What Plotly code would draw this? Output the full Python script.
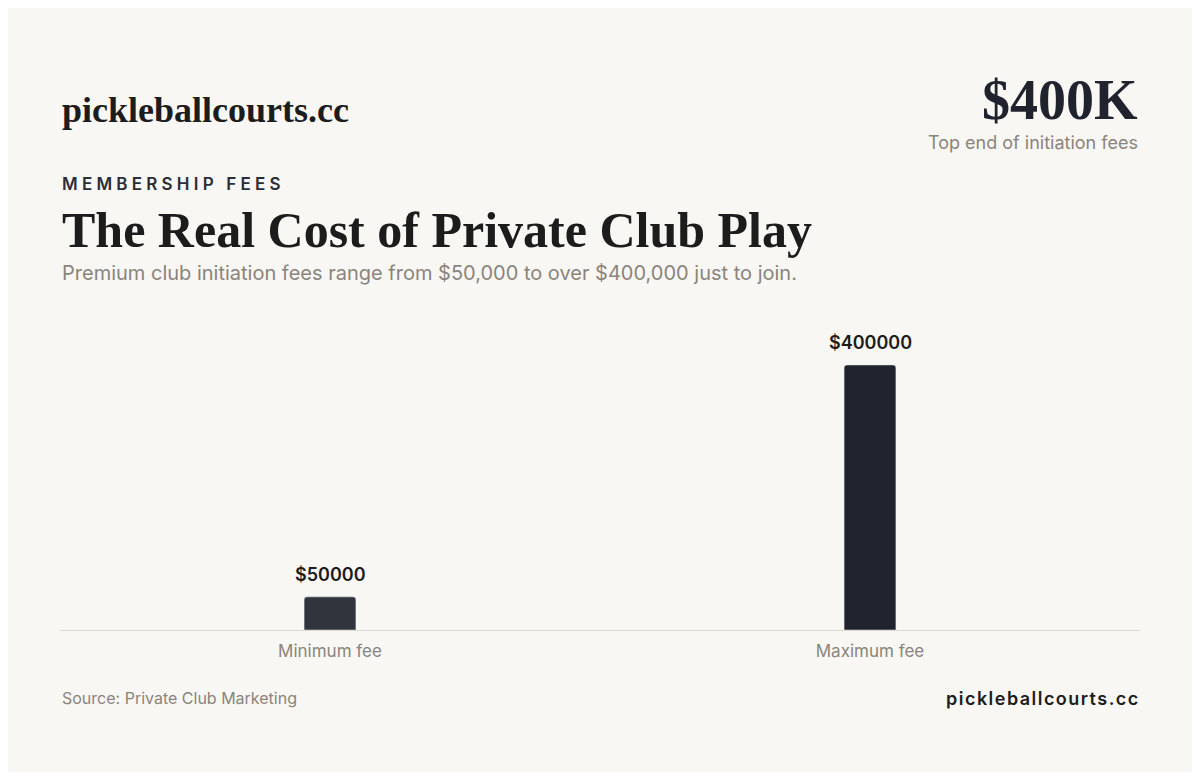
import plotly.graph_objects as go

categories = ["Minimum fee", "Maximum fee"]
fees = [50000, 400000]
labels = ["$50000", "$400000"]
bar_colors = ["#32343d", "#20232e"]

BG = "#f8f7f3"
INK = "#1c1c1c"
GREY = "#8a847d"
SERIF = "Liberation Serif, DejaVu Serif, serif"
SANS = "Inter, Roboto, sans-serif"
OFF = 8  # page body margin of the browser


def spaced(s, sep="\u2009"):
    return sep.join(s)


fig = go.Figure(go.Bar(
    x=categories, y=fees,
    marker=dict(color=bar_colors, cornerradius=3), width=0.096,
))

for c, v, t in zip(categories, fees, labels):
    fig.add_annotation(x=c, y=v, text=t, showarrow=False, yanchor="bottom", yshift=10,
                       font=dict(family=SANS, size=18, color=INK, weight=600))

fig.update_layout(
    width=1184, height=764, paper_bgcolor=BG, plot_bgcolor=BG,
    margin=dict(l=52, r=52, t=292, b=142), showlegend=False,
    xaxis=dict(showline=True, linecolor="#dedbd5", linewidth=1, ticks="",
               ticklabelstandoff=6,
               tickfont=dict(family=SANS, size=17, color=GREY)),
    yaxis=dict(range=[0, 498000], visible=False, showgrid=False),
)


def px(xp, yp):
    return (xp - 60) / 1080, (630 - yp) / 330


def note(text, xp, yp, size, color, family, xanchor="left", weight=None):
    x, y = px(xp, yp)
    fig.add_annotation(text=text, x=x, y=y, xref="paper", yref="paper",
                       xanchor=xanchor, yanchor="middle", showarrow=False,
                       font=dict(size=size, color=color, family=family, weight=weight))


note("pickleballcourts.cc", 60, 110, 36, INK, SERIF, weight="bold")
note("$400K", 1140, 100, 56, "#20232e", SERIF, "right", weight="bold")
note("Top end of initiation fees", 1140, 143, 18, GREY, SANS, "right")
note(spaced("MEMBERSHIP FEES", "\u2009\u200a"), 60, 184, 17, "#2a2d38", SANS, weight=600)
note("The Real Cost of Private Club Play", 60, 230, 50, INK, SERIF, weight="bold")
note("Premium club initiation fees range from $50,000 to over $400,000 just to join.",
     60, 273, 20, GREY, SANS)
note("Source: Private Club Marketing", 60, 698, 16, GREY, SANS)
note(spaced("pickleballcourts.cc", "\u200a"), 1140, 698, 18, INK, SANS, "right", weight=600)

fig.write_html("out.html")
